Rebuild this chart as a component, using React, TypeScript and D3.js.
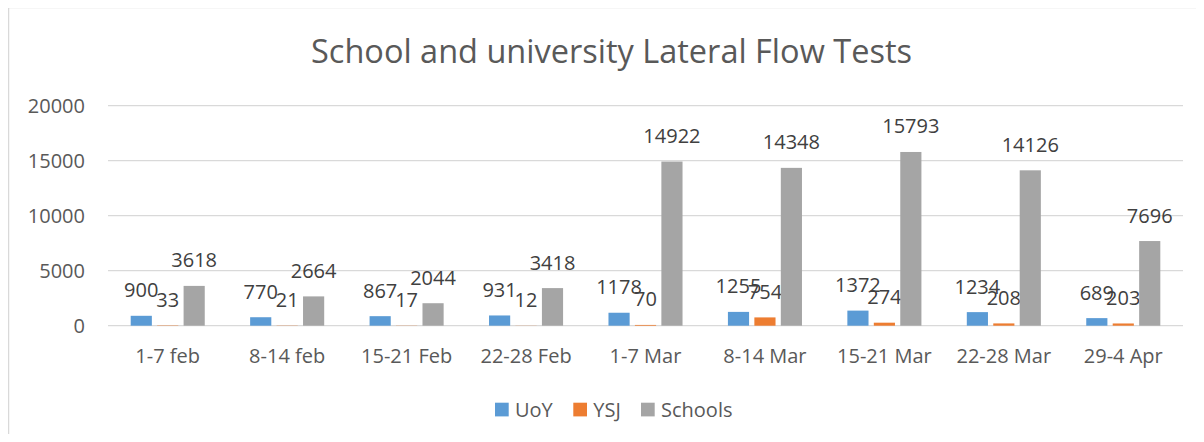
import { useEffect, useRef } from 'react';
import * as d3 from 'd3';

const categories = ['1-7 feb', '8-14 feb', '15-21 Feb', '22-28 Feb', '1-7 Mar', '8-14 Mar', '15-21 Mar', '22-28 Mar', '29-4 Apr'];
const seriesNames = ['UoY', 'YSJ', 'Schools'];
const uoy = [900, 770, 867, 931, 1178, 1255, 1372, 1234, 689];
const ysj = [33, 21, 17, 12, 70, 754, 274, 208, 203];
const schools = [3618, 2664, 2044, 3418, 14922, 14348, 15793, 14126, 7696];
const yTicks = [0, 5000, 10000, 15000, 20000];
const colors = ['#5B9BD5', '#ED7D31', '#A5A5A5'];

const FONT = '"Open Sans", sans-serif';

export default function App() {
  const svgRef = useRef<SVGSVGElement>(null);

  useEffect(() => {
    if (!svgRef.current) return;
    const W = 1204;
    const H = 442;
    const M = { top: 105.7, right: 21, bottom: 116.3, left: 108 };

    const svg = d3.select(svgRef.current).attr('width', W).attr('height', H);
    svg.selectAll('*').remove();

    // chart frame (runs off the right/bottom edge like the screenshot)
    svg.append('rect').attr('x', 8.5).attr('y', 7.5).attr('width', 1210).attr('height', 450)
      .style('fill', '#fff').style('stroke', '#D9D9D9').style('stroke-width', 1.5);

    svg.append('text').attr('x', 611.5).attr('y', 62.5)
      .attr('text-anchor', 'middle').style('fill', '#595959')
      .style('font-family', FONT).style('font-size', '32.5px')
      .text('School and university Lateral Flow Tests');

    const x = d3.scaleBand().domain(categories).range([M.left, W - M.right]).padding(0);
    const y = d3.scaleLinear().domain([0, 20000]).range([H - M.bottom, M.top]);
    const inner = d3.scaleBand().domain(seriesNames)
      .range([x.bandwidth() * 0.19, x.bandwidth() * 0.81]).paddingInner(0.2);

    // gridlines
    svg.append('g').selectAll('line').data(yTicks).join('line')
      .attr('x1', M.left).attr('x2', W - M.right)
      .attr('y1', d => y(d)).attr('y2', d => y(d))
      .style('stroke', '#D9D9D9').style('stroke-width', 1.3);

    // y labels
    svg.append('g').selectAll('text').data(yTicks).join('text')
      .attr('x', 85).attr('y', d => y(d) + 7.5)
      .attr('text-anchor', 'end').style('fill', '#595959')
      .style('font-family', FONT).style('font-size', '20px')
      .text(d => String(d));

    // x labels
    svg.append('g').selectAll('text').data(categories).join('text')
      .attr('x', d => (x(d) ?? 0) + x.bandwidth() / 2).attr('y', 363)
      .attr('text-anchor', 'middle').style('fill', '#595959')
      .style('font-family', FONT).style('font-size', '20px')
      .text(d => d);

    const seriesData = [uoy, ysj, schools];
    seriesData.forEach((vals, si) => {
      const g = svg.append('g');
      const pts = vals.map((v, i) => ({ v, c: categories[i] }));
      g.selectAll('rect').data(pts).join('rect')
        .attr('x', d => (x(d.c) ?? 0) + (inner(seriesNames[si]) ?? 0))
        .attr('y', d => y(d.v))
        .attr('width', inner.bandwidth())
        .attr('height', d => y(0) - y(d.v))
        .style('fill', colors[si]);
      g.selectAll('text').data(pts).join('text')
        .attr('x', d => (x(d.c) ?? 0) + (inner(seriesNames[si]) ?? 0) + inner.bandwidth() / 2)
        .attr('y', d => y(d.v) - 18.5)
        .attr('text-anchor', 'middle').style('fill', '#404040')
        .style('font-family', FONT).style('font-size', '20px')
        .text(d => String(d.v));
    });

    // legend
    const legendX = [495, 573.3, 641];
    seriesNames.forEach((name, i) => {
      svg.append('rect').attr('x', legendX[i]).attr('y', 402.7).attr('width', 13.7).attr('height', 13.7)
        .style('fill', colors[i]);
      svg.append('text').attr('x', legendX[i] + 20).attr('y', 416.5)
        .style('fill', '#595959').style('font-family', FONT).style('font-size', '20px')
        .text(name);
    });
  }, []);

  return (
    <div style={{ margin: -8 }}>
      <svg ref={svgRef} style={{ display: 'block' }} />
    </div>
  );
}
